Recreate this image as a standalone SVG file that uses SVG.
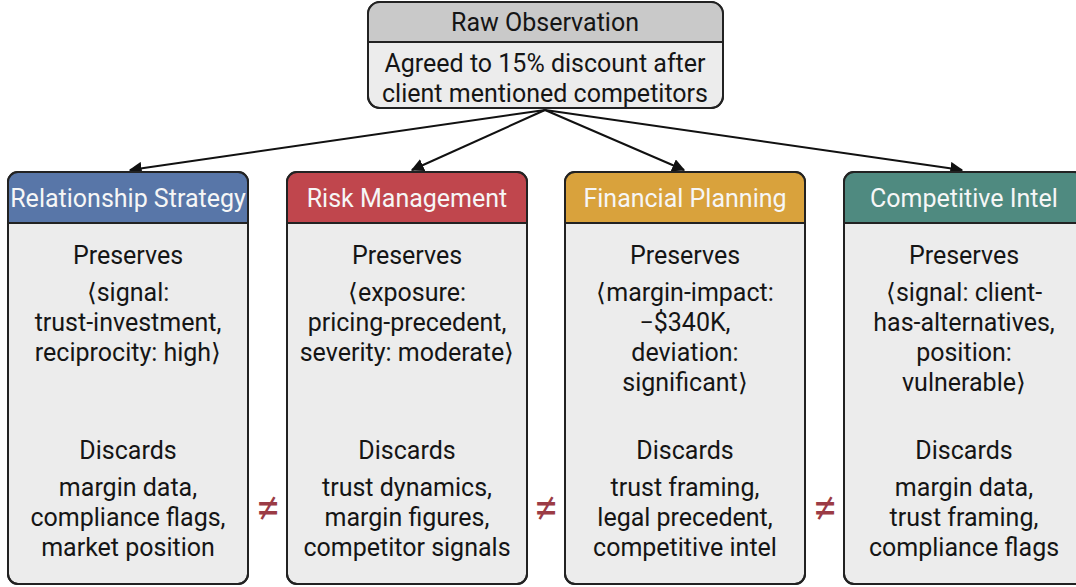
<svg xmlns="http://www.w3.org/2000/svg" width="1076" height="587" viewBox="0 0 1076 587">
<defs>
<marker id="ah" viewBox="0 0 10 10" refX="9" refY="5" markerWidth="13" markerHeight="13" markerUnits="userSpaceOnUse" orient="auto">
<path d="M0,0 L10,5 L0,10 Z" fill="#111"/>
</marker>
<style>
text{font-family:Roboto,"Liberation Sans",sans-serif;text-anchor:middle;fill:#151515;font-size:25px}
.hd{fill:#f6f6f6;font-size:25px}
.box{fill:#ececec;stroke:#222;stroke-width:2}
.out{fill:none;stroke:#222;stroke-width:2}
.div{stroke:#222;stroke-width:2}
.ne{fill:#9b3b45;font-size:44px}
.con{stroke:#111;stroke-width:2;fill:none}
</style>
</defs>
<rect width="1076" height="587" fill="#ffffff"/>
<g id="connectors">
<line class="con" x1="545" y1="110" x2="130" y2="170" marker-end="url(#ah)"/>
<line class="con" x1="545" y1="110" x2="412" y2="170" marker-end="url(#ah)"/>
<line class="con" x1="545" y1="110" x2="684" y2="170" marker-end="url(#ah)"/>
<line class="con" x1="545" y1="110" x2="962" y2="170" marker-end="url(#ah)"/>
</g>
<g id="raw">
<rect class="box" x="368" y="2" width="355" height="106" rx="12"/>
<path d="M368,42 V14 Q368,2 380,2 H711 Q723,2 723,14 V42 Z" fill="#c9c9c9"/>
<rect class="out" x="368" y="2" width="355" height="106" rx="12"/>
<line class="div" x1="368" y1="42" x2="723" y2="42"/>
<text x="545" y="31">Raw Observation</text>
<text x="545" y="72">Agreed to 15% discount after</text>
<text x="545" y="102">client mentioned competitors</text>
</g>
<g id="rel" transform="translate(8,0)">
<rect class="box" x="0" y="172" width="240" height="412" rx="10"/>
<path d="M0,223 V182 Q0,172 10,172 H230 Q240,172 240,182 V223 Z" fill="#5876a8"/>
<rect class="out" x="0" y="172" width="240" height="412" rx="10"/>
<line class="div" x1="0" y1="223" x2="240" y2="223"/>
<text class="hd" x="120" y="207">Relationship Strategy</text>
<text x="120" y="264">Preserves</text>
<text x="120" y="301">⟨signal:</text>
<text x="120" y="331">trust-investment,</text>
<text x="120" y="361">reciprocity: high⟩</text>
<text x="120" y="459">Discards</text>
<text x="120" y="496">margin data,</text>
<text x="120" y="526">compliance flags,</text>
<text x="120" y="556">market position</text>
</g>
<g id="risk" transform="translate(287,0)">
<rect class="box" x="0" y="172" width="240" height="412" rx="10"/>
<path d="M0,223 V182 Q0,172 10,172 H230 Q240,172 240,182 V223 Z" fill="#c0464d"/>
<rect class="out" x="0" y="172" width="240" height="412" rx="10"/>
<line class="div" x1="0" y1="223" x2="240" y2="223"/>
<text class="hd" x="120" y="207">Risk Management</text>
<text x="120" y="264">Preserves</text>
<text x="120" y="301">⟨exposure:</text>
<text x="120" y="331">pricing-precedent,</text>
<text x="120" y="361">severity: moderate⟩</text>
<text x="120" y="459">Discards</text>
<text x="120" y="496">trust dynamics,</text>
<text x="120" y="526">margin figures,</text>
<text x="120" y="556">competitor signals</text>
</g>
<g id="fin" transform="translate(565,0)">
<rect class="box" x="0" y="172" width="240" height="412" rx="10"/>
<path d="M0,223 V182 Q0,172 10,172 H230 Q240,172 240,182 V223 Z" fill="#d9a23c"/>
<rect class="out" x="0" y="172" width="240" height="412" rx="10"/>
<line class="div" x1="0" y1="223" x2="240" y2="223"/>
<text class="hd" x="120" y="207">Financial Planning</text>
<text x="120" y="264">Preserves</text>
<text x="120" y="301">⟨margin-impact:</text>
<text x="120" y="331">−$340K,</text>
<text x="120" y="361">deviation:</text>
<text x="120" y="391">significant⟩</text>
<text x="120" y="459">Discards</text>
<text x="120" y="496">trust framing,</text>
<text x="120" y="526">legal precedent,</text>
<text x="120" y="556">competitive intel</text>
</g>
<g id="comp" transform="translate(844,0)">
<rect class="box" x="0" y="172" width="240" height="412" rx="10"/>
<path d="M0,223 V182 Q0,172 10,172 H230 Q240,172 240,182 V223 Z" fill="#4f8a80"/>
<rect class="out" x="0" y="172" width="240" height="412" rx="10"/>
<line class="div" x1="0" y1="223" x2="240" y2="223"/>
<text class="hd" x="120" y="207">Competitive Intel</text>
<text x="120" y="264">Preserves</text>
<text x="120" y="301">⟨signal: client-</text>
<text x="120" y="331">has-alternatives,</text>
<text x="120" y="361">position:</text>
<text x="120" y="391">vulnerable⟩</text>
<text x="120" y="459">Discards</text>
<text x="120" y="496">margin data,</text>
<text x="120" y="526">trust framing,</text>
<text x="120" y="556">compliance flags</text>
</g>
<g id="neq">
<text class="ne" x="268" y="523">≠</text>
<text class="ne" x="546" y="523">≠</text>
<text class="ne" x="825" y="523">≠</text>
</g>
</svg>
